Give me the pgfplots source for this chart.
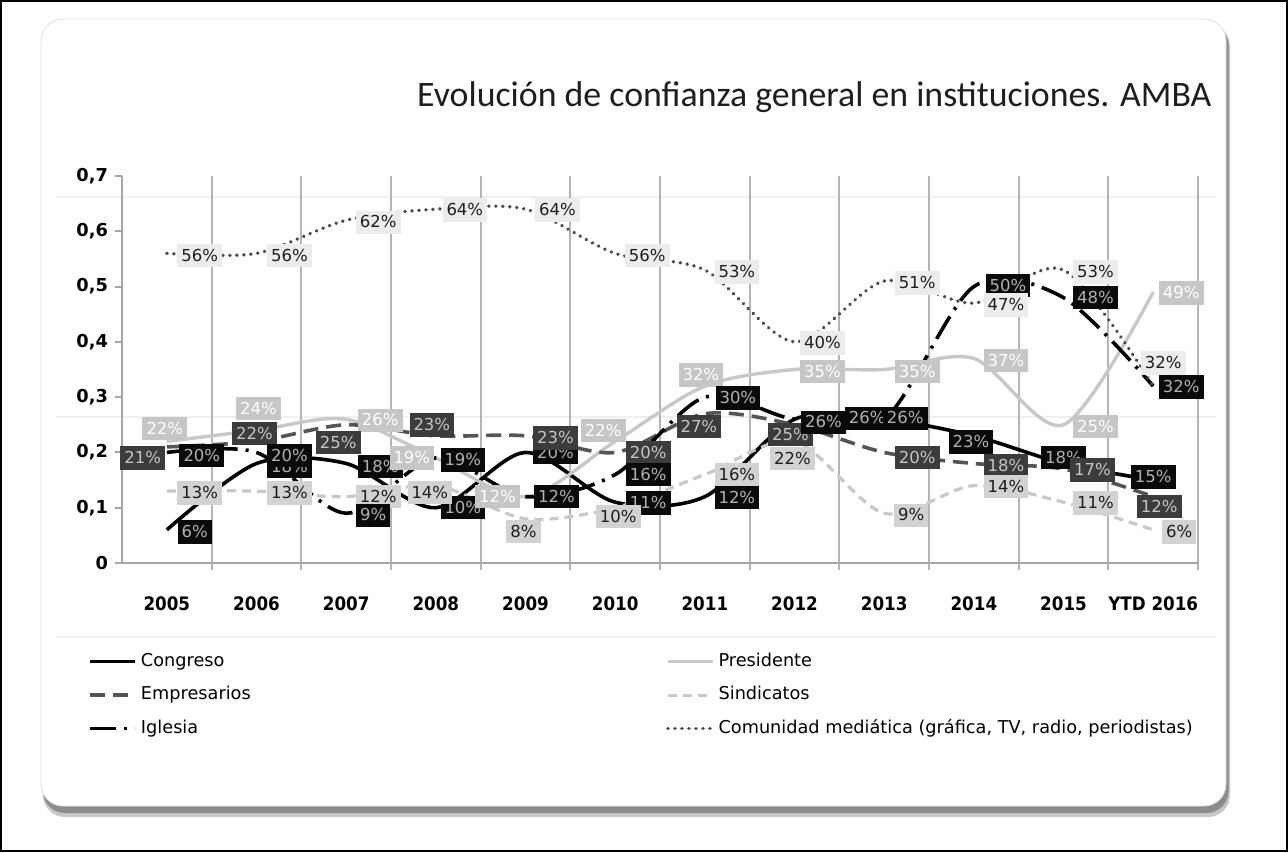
\documentclass[border=0pt]{standalone}
\usepackage{fontspec}
\setmainfont{DejaVu Sans}
\newfontfamily\condfont[FakeStretch=0.9]{DejaVu Sans}
\newfontfamily\titlefont{Carlito}
\usepackage{pgfplots}
\pgfplotsset{compat=1.18}
\usepackage{pgfplotstable}

\definecolor{presc}{HTML}{C8C8C8}
\definecolor{sindc}{HTML}{C8C8C8}
\definecolor{empc}{HTML}{555555}
\definecolor{comc}{HTML}{4A4A4A}
\definecolor{gridc}{HTML}{B4B4B4}
\definecolor{boxcom}{HTML}{ECECEC}
\definecolor{boxpres}{HTML}{C6C6C6}
\definecolor{boxsind}{HTML}{D2D2D2}
\definecolor{boxemp}{HTML}{3C3C3C}
\definecolor{boxblk}{HTML}{0A0A0A}
\definecolor{txtdark}{HTML}{1E1E1E}
\definecolor{txtblk}{HTML}{B0B0B0}
\definecolor{txtemp}{HTML}{C4C4C4}

\pgfplotstableread{
x y p dx dy
0 0.06 6 14 -1
1 0.18 18 16.5 -1.5
2 0.18 18 17 -1.5
3 0.10 10 13.5 0
4 0.20 20 15 0
5 0.11 11 16.5 -0.5
6 0.12 12 16 -0.5
7 0.26 26 14.5 -1.5
8 0.26 26 -8.5 0.5
9 0.23 23 -1.5 -3
10 0.18 18 0 3
11 0.15 15 0 1.5
}\tabCongreso

\pgfplotstableread{
x y p dx dy
0 0.22 22 -1 6.5
1 0.24 24 1 11
2 0.26 26 17 -0.5
3 0.19 19 -12 0
4 0.12 12 -14 0
5 0.22 22 -6 5.5
6 0.32 32 -2 5.5
7 0.35 35 14 -1
8 0.35 35 16.5 -1
9 0.37 37 16 -1
10 0.25 25 16 -1
11 0.49 49 14 -0.5
}\tabPresidente

\pgfplotstableread{
x y p dx dy
0 0.21 21 -12 -5.5
1 0.22 22 -1 4
2 0.25 25 -4 -9
3 0.23 23 -2 5.5
4 0.23 23 15 -1
5 0.20 20 16.5 0
6 0.27 27 -3 -6.5
7 0.25 25 -2 -5
8 0.20 20 16.5 -2.5
9 0.18 18 16 -1
10 0.17 17 14.5 -0.5
11 0.12 12 3 -5
}\tabEmpresarios

\pgfplotstableread{
x y p dx dy
0 0.13 13 16.5 -1
1 0.13 13 16.5 -1
2 0.12 12 16 0
3 0.14 14 -3 -3.5
4 0.08 8 -1 -6.5
5 0.10 10 1.5 -4.5
6 0.16 16 16 0
7 0.22 22 -1 -8.5
8 0.09 9 13.5 -1
9 0.14 14 16 -0.5
10 0.11 11 16 -0.5
11 0.06 6 13 -1
}\tabSindicatos

\pgfplotstableread{
x y p dx dy
0 0.20 20 17.5 -1.5
1 0.20 20 16.5 -1.5
2 0.09 9 13.5 -1
3 0.19 19 13.5 -1
4 0.12 12 15.5 0
5 0.16 16 16.5 0
6 0.30 30 16.5 -0.5
7 0.26 26 14.5 -1.5
8 0.26 26 10.5 0.5
9 0.50 50 17 0.5
10 0.48 48 16 0
11 0.32 32 14 -0.5
}\tabIglesia

\pgfplotstableread{
x y p dx dy
0 0.56 56 16.5 -1
1 0.56 56 16.5 -1
2 0.62 62 16 -1
3 0.64 64 14.5 -0.5
4 0.64 64 16 -0.5
5 0.56 56 16 -1
6 0.53 53 16 -1
7 0.40 40 14 -0.5
8 0.51 51 16.5 -1
9 0.47 47 16 -1
10 0.53 53 16 -1
11 0.32 32 5 11.5
}\tabComunidad

\pgfplotsset{
  lab/.style 2 args={draw=none, mark=none, forget plot,
    nodes near coords={\pgfmathprintnumber[assume math mode=true]{\pgfplotspointmeta}\%},
    point meta=explicit,
    visualization depends on={\thisrow{dx}\as\dx},
    visualization depends on={\thisrow{dy}\as\dy},
    every node near coord/.append style={anchor=center, xshift=\dx pt, yshift=\dy pt,
      fill=#1, text=#2, inner xsep=2pt, inner ysep=2.4pt, text height=6.3pt, text depth=0.6pt,
      font=\fontsize{8.25}{9}\selectfont}},
}

\begin{document}
\begin{tikzpicture}
\useasboundingbox (0,0) rectangle (644pt,426pt);
\fill[white] (0,0) rectangle (644pt,426pt);
\draw[black, line width=1.2pt] (0.6pt,0.6pt) rectangle (643.4pt,425.4pt);
\fill[black!22, rounded corners=11pt] (21.5pt,17.5pt) rectangle (615pt,414pt);
\fill[black!45, rounded corners=11pt] (21.5pt,19.5pt) rectangle (614.3pt,414pt);
\filldraw[fill=white, draw=black!12, rounded corners=11pt] (20.5pt,23pt) rectangle (613pt,416.5pt);
\draw[black!6, line width=0.8pt] (28pt,327.5pt) -- (608pt,327.5pt);
\draw[black!6, line width=0.8pt] (28pt,217.5pt) -- (608pt,217.5pt);
\draw[black!6, line width=0.8pt] (28pt,107.5pt) -- (608pt,107.5pt);
\node[anchor=east, font=\titlefont\fontsize{17.9}{20}\selectfont, text=txtdark, inner sep=0pt] at (606pt,377.5pt) {Evolución de confianza general en instituciones. AMBA};
\begin{axis}[
  at={(61pt,144.5pt)}, anchor=south west,
  scale only axis, width=538pt, height=193.5pt,
  clip=false,
  xmin=-0.5, xmax=11.5, ymin=0, ymax=0.7,
  axis x line*=bottom, axis y line*=left,
  axis line style={draw=black!35, line width=1pt},
  tick align=outside,
  major tick length=3.5pt, minor tick length=3.5pt,
  xtick={0,1,2,3,4,5,6,7,8,9,10,11},
  xticklabels={2005,2006,2007,2008,2009,2010,2011,2012,2013,2014,2015,YTD 2016},
  major x tick style={draw=none},
  minor xtick={0.5,1.5,2.5,3.5,4.5,5.5,6.5,7.5,8.5,9.5,10.5,11.5},
  minor x tick style={draw=gridc, line width=1pt},
  xminorgrids=true,
  minor x grid style={gridc, line width=1pt},
  ytick={0,0.1,0.2,0.3,0.4,0.5,0.6,0.7},
  yticklabels={0,{0,1},{0,2},{0,3},{0,4},{0,5},{0,6},{0,7}},
  ytick style={draw=black!35, line width=1pt},
  xticklabel style={font=\condfont\bfseries\fontsize{9.3}{10}\selectfont, text=black, yshift=-10pt},
  yticklabel style={font=\bfseries\fontsize{8.9}{10}\selectfont, text=black},
  legend columns=2,
  legend image code/.code={\draw[#1] (0pt,0pt) -- (22.5pt,0pt);},
  legend style={at={(axis description cs:-0.0316,-0.2315)}, anchor=north west,
    draw=none, fill=none, inner sep=0pt, column sep=2pt, row sep=8.15pt,
    nodes={inner sep=0pt, text height=6.7pt, text depth=1.9pt},
    font=\fontsize{8.85}{10}\selectfont, text=black},
  legend cell align=left,
]
\addplot[black, line width=1.8pt, smooth] table[x=x,y=y] {\tabCongreso};
\addlegendentry{\makebox[260.5pt][l]{Congreso}}
\addplot[presc, line width=1.7pt, smooth] table[x=x,y=y] {\tabPresidente};
\addlegendentry{Presidente}
\addplot[empc, line width=1.8pt, smooth, dash pattern=on 7.5pt off 4pt] table[x=x,y=y] {\tabEmpresarios};
\addlegendentry{\makebox[260.5pt][l]{Empresarios}}
\addplot[sindc, line width=1.6pt, smooth, dash pattern=on 4.5pt off 3pt] table[x=x,y=y] {\tabSindicatos};
\addlegendentry{Sindicatos}
\addplot[black, line width=1.8pt, smooth, dash pattern=on 13pt off 4pt on 1.5pt off 4pt] table[x=x,y=y] {\tabIglesia};
\addlegendentry{\makebox[260.5pt][l]{Iglesia}}
\addplot[comc, line width=1.8pt, smooth, line cap=round, dash pattern=on 0.1pt off 3.4pt] table[x=x,y=y] {\tabComunidad};
\addlegendentry{Comunidad mediática (gráfica, TV, radio, periodistas)}

\addplot[lab={boxblk}{txtblk}] table[x=x,y=y,meta=p] {\tabCongreso};
\addplot[lab={boxpres}{white}] table[x=x,y=y,meta=p] {\tabPresidente};
\addplot[lab={boxemp}{txtemp}] table[x=x,y=y,meta=p] {\tabEmpresarios};
\addplot[lab={boxsind}{txtdark}] table[x=x,y=y,meta=p] {\tabSindicatos};
\addplot[lab={boxblk}{txtblk}] table[x=x,y=y,meta=p] {\tabIglesia};
\addplot[lab={boxcom}{txtdark}] table[x=x,y=y,meta=p] {\tabComunidad};
\end{axis}
\end{tikzpicture}
\end{document}
